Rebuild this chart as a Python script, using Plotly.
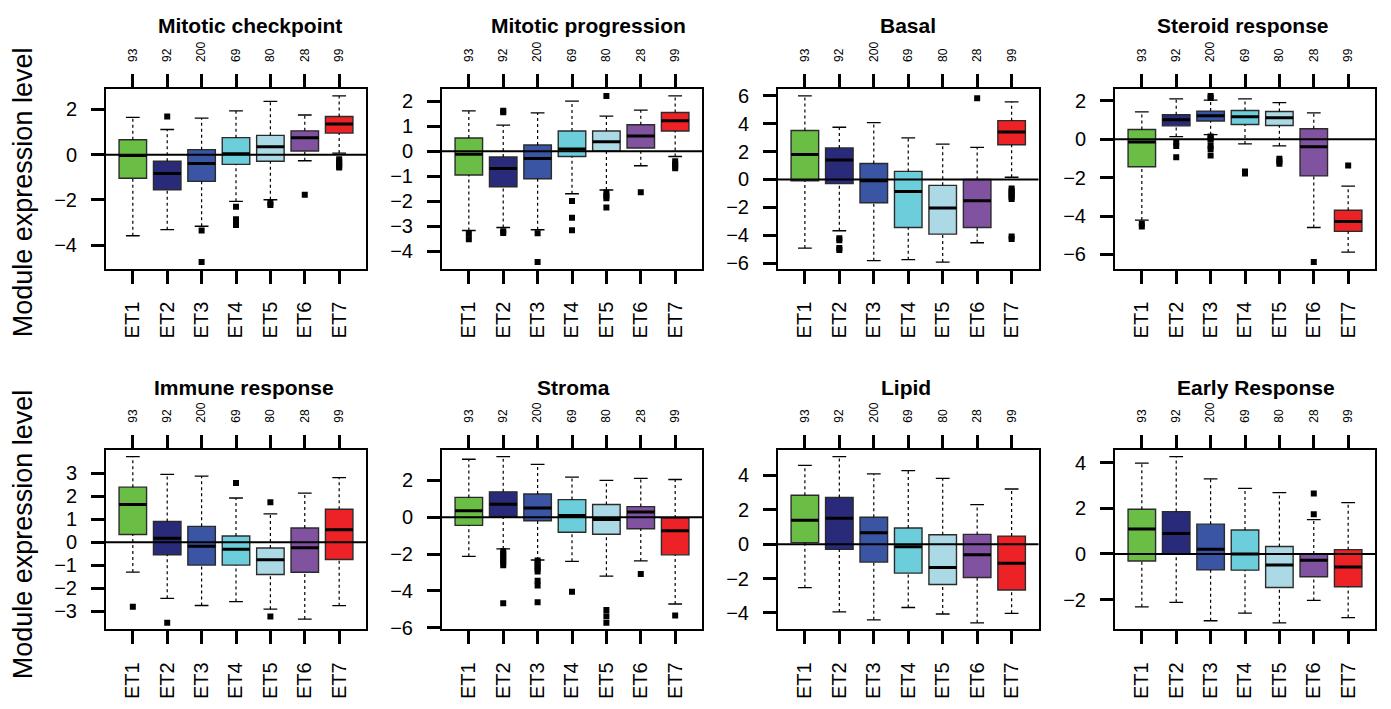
import plotly.graph_objects as go

W, H = 1391, 709

groups = ["ET1", "ET2", "ET3", "ET4", "ET5", "ET6", "ET7"]
counts = [93, 92, 200, 69, 80, 28, 99]
colors = ["#6bbe45", "#2a2a7a", "#3955a3", "#6ccddb", "#abdae6", "#8152a0", "#ec2227"]

# Box statistics per module: lower whisker, Q1, median, Q3, upper whisker, outliers
checkpoint_lo = [-3.58, -3.31, -3.16, -2.06, -1.99, -0.27, 0.07]
checkpoint_q1 = [-1.04, -1.55, -1.18, -0.43, -0.29, 0.16, 0.95]
checkpoint_med = [-0.04, -0.83, -0.39, 0.04, 0.35, 0.75, 1.35]
checkpoint_q3 = [0.66, -0.29, 0.22, 0.75, 0.85, 1.05, 1.68]
checkpoint_hi = [1.64, 1.11, 1.61, 1.93, 2.35, 1.75, 2.59]
checkpoint_out = [[], [1.68], [-3.35, -4.74], [-2.3, -2.85, -3.0, -3.1], [-2.12, -2.22], [-1.77],
                  [-0.2, -0.3, -0.4, -0.5, -0.57]]

progression_lo = [-3.17, -3.05, -3.14, -1.7, -1.55, -0.58, -0.21]
progression_q1 = [-0.95, -1.42, -1.1, -0.21, 0.0, 0.13, 0.81]
progression_med = [-0.12, -0.69, -0.29, 0.09, 0.38, 0.61, 1.22]
progression_q3 = [0.53, -0.23, 0.25, 0.81, 0.81, 1.06, 1.55]
progression_hi = [1.61, 1.04, 1.53, 2.0, 1.4, 1.64, 2.21]
progression_out = [[-3.3, -3.52], [1.62, 1.56, -3.2, -3.27], [-3.28, -4.43], [-1.99, -2.66, -3.16],
                   [2.21, -1.65, -1.78, -1.88, -2.25], [-1.64], [-0.4, -0.5, -0.6, -0.68]]

basal_lo = [-4.91, -3.67, -5.81, -5.74, -5.91, -4.53, 0.16]
basal_q1 = [-0.09, -0.3, -1.67, -3.44, -3.91, -3.44, 2.49]
basal_med = [1.79, 1.4, -0.09, -0.86, -2.05, -1.53, 3.4]
basal_q3 = [3.51, 2.26, 1.14, 0.58, -0.42, 0.0, 4.21]
basal_hi = [5.98, 3.74, 4.07, 2.98, 2.53, 2.3, 5.56]
basal_out = [[], [-4.2, -4.35, -4.9, -5.05], [], [], [], [5.81],
             [-0.65, -0.8, -0.95, -1.1, -1.25, -1.4, -4.09, -4.26]]

steroid_lo = [-4.21, 0.14, 0.24, -0.24, -0.34, -4.6, -5.88]
steroid_q1 = [-1.43, 0.7, 0.95, 0.77, 0.72, -1.91, -4.8]
steroid_med = [-0.14, 1.02, 1.23, 1.18, 1.12, -0.39, -4.28]
steroid_q3 = [0.51, 1.28, 1.47, 1.5, 1.45, 0.55, -3.7]
steroid_hi = [1.43, 2.11, 2.04, 2.11, 1.91, 1.38, -2.44]
steroid_out = [[-4.4, -4.55], [-0.17, -0.35, -0.94], [2.26, 2.15, 0.15, 0.05, -0.03, -0.34, -0.5, -0.85],
               [-1.68, -1.78], [-1.02, -1.15, -1.28], [-6.4], [-1.36]]

immune_lo = [-1.29, -2.43, -2.74, -2.57, -2.9, -3.33, -2.75]
immune_q1 = [0.34, -0.54, -0.99, -0.99, -1.4, -1.3, -0.75]
immune_med = [1.64, 0.17, -0.17, -0.3, -0.76, -0.24, 0.54]
immune_q3 = [2.39, 0.9, 0.69, 0.27, -0.25, 0.62, 1.43]
immune_hi = [3.71, 2.94, 2.87, 1.92, 1.23, 2.13, 2.8]
immune_out = [[-2.8], [-3.49], [], [2.57], [1.74, -3.22], [], []]

stroma_lo = [-2.12, -1.72, -2.32, -2.39, -3.2, -2.37, -4.71]
stroma_q1 = [-0.44, 0.05, -0.19, -0.81, -0.92, -0.62, -2.04]
stroma_med = [0.35, 0.71, 0.51, 0.09, -0.12, 0.28, -0.73]
stroma_q3 = [1.08, 1.38, 1.26, 0.96, 0.69, 0.58, -0.04]
stroma_hi = [3.15, 3.29, 2.87, 2.18, 2.0, 2.11, 2.05]
stroma_out = [[], [-1.85, -2.0, -2.15, -2.3, -2.45, -2.6, -4.67],
              [-2.35, -2.5, -2.65, -2.8, -2.95, -3.45, -3.7, -4.62], [-4.04],
              [-5.03, -5.38, -5.73], [-3.08], [-5.33]]

lipid_lo = [-2.53, -3.94, -4.4, -3.68, -4.06, -4.57, -4.02]
lipid_q1 = [0.09, -0.3, -1.04, -1.68, -2.34, -1.94, -2.66]
lipid_med = [1.4, 1.51, 0.66, -0.15, -1.36, -0.62, -1.11]
lipid_q3 = [2.85, 2.72, 1.57, 0.94, 0.55, 0.57, 0.47]
lipid_hi = [4.58, 5.09, 4.09, 4.28, 3.83, 2.3, 3.21]
lipid_out = [[], [], [], [], [], [], []]

early_lo = [-2.32, -2.12, -2.93, -2.6, -3.02, -2.04, -2.79]
early_q1 = [-0.31, 0.0, -0.7, -0.71, -1.47, -1.0, -1.44]
early_med = [1.1, 0.9, 0.21, 0.0, -0.48, -0.27, -0.57]
early_q3 = [1.96, 1.86, 1.31, 1.05, 0.33, 0.0, 0.19]
early_hi = [3.99, 4.27, 3.3, 2.88, 2.69, 1.51, 2.25]
early_out = [[], [], [], [], [], [2.65, 1.74], []]

titles = ["Mitotic checkpoint", "Mitotic progression", "Basal", "Steroid response",
          "Immune response", "Stroma", "Lipid", "Early Response"]
yticks = [[-4, -2, 0, 2], [-4, -3, -2, -1, 0, 1, 2], [-6, -4, -2, 0, 2, 4, 6], [-6, -4, -2, 0, 2],
          [-3, -2, -1, 0, 1, 2, 3], [-6, -4, -2, 0, 2], [-4, -2, 0, 2, 4], [-2, 0, 2, 4]]

stats = [
    (checkpoint_lo, checkpoint_q1, checkpoint_med, checkpoint_q3, checkpoint_hi, checkpoint_out),
    (progression_lo, progression_q1, progression_med, progression_q3, progression_hi, progression_out),
    (basal_lo, basal_q1, basal_med, basal_q3, basal_hi, basal_out),
    (steroid_lo, steroid_q1, steroid_med, steroid_q3, steroid_hi, steroid_out),
    (immune_lo, immune_q1, immune_med, immune_q3, immune_hi, immune_out),
    (stroma_lo, stroma_q1, stroma_med, stroma_q3, stroma_hi, stroma_out),
    (lipid_lo, lipid_q1, lipid_med, lipid_q3, lipid_hi, lipid_out),
    (early_lo, early_q1, early_med, early_q3, early_hi, early_out),
]

# Panel frames in pixels (left, right, top, bottom) and title centres
col_x = [(106, 366), (442, 702), (778, 1038.5), (1115, 1375)]
row_y = [(86, 269), (454, 637)]
title_cx = [250, 588, 908, 1243, 244, 573, 906, 1256]
title_cy = [21, 390]
ylab_cy = [191, 540]

FONT = "Liberation Sans, Arial, Helvetica, sans-serif"
BOXW = 0.8
STAPLE = 0.2


def axname(letter, n):
    return letter if n == 1 else f"{letter}{n}"


fig = go.Figure()
layout = {}
shapes = []
annotations = []

for k in range(8):
    n = k + 1
    xa, ya, xt = axname("x", n), axname("y", n), f"x{n + 8}"
    lo, q1, med, q3, hi, out = stats[k]
    xs = list(range(1, len(groups) + 1))

    # dashed whiskers
    wx, wy = [], []
    for x, a, b, c, d in zip(xs, lo, q1, q3, hi):
        wx += [x, x, None, x, x, None]
        wy += [a, b, None, c, d, None]
    fig.add_trace(go.Scatter(x=wx, y=wy, mode="lines", xaxis=xa, yaxis=ya,
                             line=dict(color="black", width=1.2, dash="3px,3px"),
                             hoverinfo="skip", showlegend=False))
    # whisker staples
    sx, sy = [], []
    for x, a, d in zip(xs, lo, hi):
        sx += [x - STAPLE, x + STAPLE, None, x - STAPLE, x + STAPLE, None]
        sy += [a, a, None, d, d, None]
    fig.add_trace(go.Scatter(x=sx, y=sy, mode="lines", xaxis=xa, yaxis=ya,
                             line=dict(color="black", width=1.3),
                             hoverinfo="skip", showlegend=False))
    # interquartile boxes
    fig.add_trace(go.Bar(x=xs, y=[c - b for b, c in zip(q1, q3)], base=q1, width=BOXW,
                         xaxis=xa, yaxis=ya,
                         marker=dict(color=colors, line=dict(color="#2b2b2b", width=1.4)),
                         hoverinfo="skip", showlegend=False))
    # medians
    mx, my = [], []
    for x, m in zip(xs, med):
        mx += [x - BOXW / 2, x + BOXW / 2, None]
        my += [m, m, None]
    fig.add_trace(go.Scatter(x=mx, y=my, mode="lines", xaxis=xa, yaxis=ya,
                             line=dict(color="black", width=3),
                             hoverinfo="skip", showlegend=False))
    # outliers
    ox, oy = [], []
    for x, pts in zip(xs, out):
        ox += [x] * len(pts)
        oy += pts
    fig.add_trace(go.Scatter(x=ox, y=oy, mode="markers", xaxis=xt, yaxis=ya,
                             marker=dict(symbol="square", size=6, color="black"),
                             hoverinfo="skip", showlegend=False))

    # axis ranges padded 4% like base graphics
    allv = lo + hi + [v for pts in out for v in pts]
    vmin, vmax = min(allv), max(allv)
    pad = 0.04 * (vmax - vmin)
    yr = [vmin - pad, vmax + pad]
    xr = [0.5 - 0.28, len(groups) + 0.5 + 0.28]

    l, r = col_x[k % 4]
    t, b = row_y[k // 4]
    xdom = [l / W, r / W]
    ydom = [1 - b / H, 1 - t / H]

    common = dict(showgrid=False, zeroline=False, ticks="outside", tickcolor="black",
                  tickwidth=2.5)
    layout[axname("xaxis", n)] = dict(domain=xdom, range=xr, anchor=ya, tickvals=xs,
                                      ticktext=groups, tickangle=-90, ticklen=13, showline=True,
                                      linecolor="black", linewidth=2, mirror=True,
                                      ticklabelstandoff=10,
                                      tickfont=dict(size=20, family=FONT, color="black"), **common)
    layout[f"xaxis{n + 8}"] = dict(domain=xdom, range=xr, anchor=ya, overlaying=xa, side="top",
                                   tickvals=xs, ticktext=[str(c) for c in counts], tickangle=-90,
                                   ticklen=14, showline=False, ticklabelstandoff=10,
                                   tickfont=dict(size=12, family=FONT, color="black"), **common)
    layout[axname("yaxis", n)] = dict(domain=ydom, range=yr, anchor=xa, tickvals=yticks[k],
                                      ticklen=13, showline=True, linecolor="black", linewidth=2,
                                      mirror=True, ticklabelstandoff=10,
                                      tickfont=dict(size=20, family=FONT, color="black"), **common)

    # horizontal reference line at zero
    shapes.append(dict(type="line", xref=f"{xa} domain", yref=ya, x0=0, x1=1, y0=0, y1=0,
                       line=dict(color="black", width=2), layer="above"))

    annotations.append(dict(text=f"<b>{titles[k]}</b>", xref="paper", yref="paper",
                            x=title_cx[k] / W, y=1 - title_cy[k // 4] / H,
                            xanchor="center", yanchor="middle", showarrow=False,
                            font=dict(size=21, family=FONT, color="black")))

for row in range(2):
    annotations.append(dict(text="Module expression level", xref="paper", yref="paper",
                            x=23 / W, y=1 - ylab_cy[row] / H, xanchor="center", yanchor="middle",
                            textangle=-90, showarrow=False,
                            font=dict(size=27, family=FONT, color="black")))

fig.update_layout(width=W, height=H, margin=dict(l=0, r=0, t=0, b=0),
                  paper_bgcolor="white", plot_bgcolor="white", showlegend=False,
                  shapes=shapes, annotations=annotations, **layout)

fig.write_html("out.html")
